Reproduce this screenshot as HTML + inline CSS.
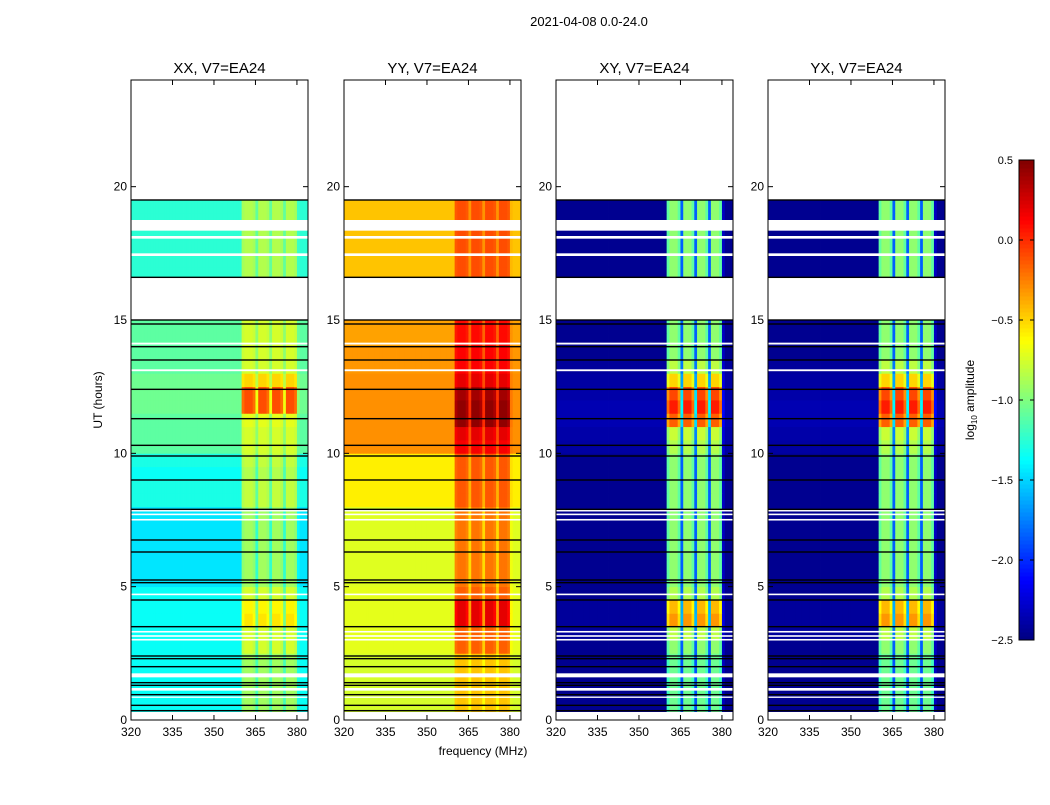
<!DOCTYPE html>
<html><head><meta charset="utf-8"><style>
body{margin:0;background:#fff;}
svg text{font-family:"Liberation Sans",sans-serif;}
</style></head><body>
<svg id="fig" width="1050" height="800" xmlns="http://www.w3.org/2000/svg">
<text x="589" y="26" font-size="13" text-anchor="middle">2021-04-08 0.0-24.0</text>
<g id="panels"></g>
<text x="483" y="755" font-size="12" text-anchor="middle">frequency (MHz)</text>
<text transform="translate(102,400) rotate(-90)" font-size="12" text-anchor="middle">UT (hours)</text>
<g id="cbar"></g>
<text transform="translate(974,400) rotate(-90)" font-size="12" text-anchor="middle">log<tspan font-size="8" dy="3">10</tspan><tspan dy="-3"> amplitude</tspan></text>
</svg>
<script>
// ---- data ----
const panelTitles = ["XX, V7=EA24","YY, V7=EA24","XY, V7=EA24","YX, V7=EA24"];
const xTicks = [320,335,350,365,380];
const yTicks = [0,5,10,15,20];
const cbTicks = [0.5,0.0,-0.5,-1.0,-1.5,-2.0,-2.5];
// time bins of 0.5 h starting at 0.0; null = no data
const baseXX = [-1.35,-1.35,-1.35,-1.35,-1.35,-1.35,-1.35,-1.35,-1.35,-1.35,-1.45,-1.45,-1.45,-1.45,-1.45,-1.45,-1.3,-1.3,-1.35,-1.3,-1.1,-1.1,-1.1,-1.05,-1.05,-1.05,-1.1,-1.1,-1.1,-1.1,null,null,null,-1.25,-1.25,-1.25,-1.25,-1.25,-1.25];
const bandXX = [0.45,0.45,0.45,0.45,0.45,0.6,0.6,0.8,0.75,0.6,0.55,0.55,0.55,0.55,0.55,0.55,0.5,0.5,0.5,0.5,0.35,0.35,0.4,0.95,0.95,0.55,0.35,0.35,0.35,0.35,null,null,null,0.4,0.4,0.4,0.4,0.4,0.4];
const baseYY = [-0.75,-0.75,-0.75,-0.75,-0.75,-0.7,-0.7,-0.7,-0.7,-0.7,-0.72,-0.72,-0.72,-0.72,-0.72,-0.72,-0.58,-0.58,-0.58,-0.58,-0.3,-0.3,-0.3,-0.3,-0.3,-0.3,-0.32,-0.32,-0.35,-0.35,null,null,null,-0.45,-0.45,-0.45,-0.45,-0.45,-0.45];
const bandYY = [0.3,0.3,0.3,0.3,0.3,0.55,0.55,0.9,0.9,0.55,0.5,0.5,0.5,0.5,0.5,0.5,0.45,0.45,0.45,0.45,0.45,0.5,0.75,0.75,0.7,0.5,0.45,0.45,0.45,0.45,null,null,null,0.35,0.35,0.35,0.35,0.35,0.35];
const baseXY = [-2.45,-2.45,-2.45,-2.45,-2.45,-2.45,-2.42,-2.42,-2.42,-2.45,-2.45,-2.45,-2.45,-2.45,-2.45,-2.45,-2.45,-2.45,-2.45,-2.45,-2.4,-2.38,-2.35,-2.35,-2.38,-2.4,-2.42,-2.45,-2.45,-2.45,null,null,null,-2.45,-2.45,-2.45,-2.45,-2.45,-2.45];
const bandXY = [1.4,1.4,1.4,1.4,1.4,1.5,1.6,2.1,2.0,1.6,1.5,1.5,1.5,1.5,1.5,1.5,1.5,1.5,1.5,1.5,1.55,1.6,2.2,2.4,2.3,1.9,1.6,1.5,1.5,1.5,null,null,null,1.5,1.5,1.5,1.5,1.5,1.5];
const baseYX = baseXY.slice();
const bandYX = bandXY.slice();
// frequency channel (1 MHz, 320..383) band shape
const bandProfile = [0,0,0,0,0,0,0,0,0,0,0,0,0,0,0,0,0,0,0,0,0,0,0,0,0,0,0,0,0,0,0,0,0,0,0,0,0,0,0,0,0.9,1,1,1,0.9,0.4,1,1,1,0.9,0.4,1,1,1,0.9,0.4,1,1,1,0.9,0.1,0,0,0];
// flagged time ranges
const whiteRanges = [[0,0.3],[19.55,24],[15.05,16.6],[18.35,18.75],[18.05,18.15],[17.4,17.5],[14.08,14.15],[13.08,13.15],[7.82,7.88],[7.68,7.74],[7.48,7.54],[4.68,4.74],[3.28,3.34],[3.12,3.18],[2.98,3.04],[1.6,1.75],[1.1,1.2],[0.83,0.88]];
const blackLines = [19.5,16.6,15.0,14.85,14.0,13.5,12.4,11.3,10.3,9.9,9.0,7.9,6.75,6.3,5.25,5.15,4.5,3.5,2.4,2.3,2.0,1.4,1.3,0.95,0.55,0.35];

const bases=[baseXX,baseYY,baseXY,baseYX], bands=[bandXX,bandYY,bandXY,bandYX];
const panelX=[131,344,556,768], PW=177, PT=80, PB=720;
const NS="http://www.w3.org/2000/svg";
function el(tag,attrs,parent){const e=document.createElementNS(NS,tag);for(const k in attrs)e.setAttribute(k,attrs[k]);parent.appendChild(e);return e;}
function jet(v){let t=(v+2.5)/3;t=Math.max(0,Math.min(1,t));const c=x=>Math.round(255*Math.max(0,Math.min(1,1.5-Math.abs(x))));return `rgb(${c(4*t-3)},${c(4*t-2)},${c(4*t-1)})`;}
const yS=h=>PB-(h/24)*(PB-PT);
const panelsG=document.getElementById('panels');
for(let p=0;p<4;p++){
  const x0=panelX[p];
  const xS=f=>x0+(f-320)/64*PW;
  const g=el('g',{},panelsG);
  
  
  const hm=el('g',{},g);
  
  
  const base=bases[p], band=bands[p];
  for(let i=0;i<base.length;i++){
    if(base[i]===null)continue;
    const y1=yS(i*0.5+0.5), y2=yS(i*0.5);
    for(let c=0;c<bandProfile.length;c++){
      const v=base[i]+band[i]*bandProfile[c];
      const r=el('rect',{x:xS(320+c).toFixed(2),y:y1.toFixed(2),width:(PW/64+0.4).toFixed(2),height:(y2-y1+0.4).toFixed(2),fill:jet(v)},hm);
      
      
    }
  }
  whiteRanges.forEach(w=>{
    const r=el('rect',{x:x0,y:yS(w[1]),width:PW,height:yS(w[0])-yS(w[1]),fill:'#fff'},g);
    
    
  });
  blackLines.forEach(h=>{
    const r=el('rect',{x:x0,y:yS(h)-0.7,width:PW,height:1.4,fill:'#000'},g);
    
    
  });
  const fr=el('rect',{x:x0,y:PT,width:PW,height:PB-PT,fill:'none',stroke:'#000','stroke-width':1},g);
  
  
  const t=el('text',{x:x0+PW/2,y:73,'font-size':15,'text-anchor':'middle'},g);
  t.textContent=panelTitles[p];
  
  
  xTicks.forEach(f=>{
    el('line',{x1:xS(f),x2:xS(f),y1:PB,y2:PB-5,stroke:'#000'},g);
    el('line',{x1:xS(f),x2:xS(f),y1:PT,y2:PT+5,stroke:'#000'},g);
    const tl=el('text',{x:xS(f),y:PB+16,'font-size':12,'text-anchor':'middle'},g);
    tl.textContent=f;
    
    
  });
  yTicks.forEach(h=>{
    el('line',{x1:x0,x2:x0+5,y1:yS(h),y2:yS(h),stroke:'#000'},g);
    el('line',{x1:x0+PW,x2:x0+PW-5,y1:yS(h),y2:yS(h),stroke:'#000'},g);
    const tl=el('text',{x:x0-4,y:yS(h)+4,'font-size':12,'text-anchor':'end'},g);
    tl.textContent=h;
    
    
  });
}
// colorbar
const cb=document.getElementById('cbar');
const CX=1019,CW=15,CT=160,CB=640;
const cS=v=>CB-(v+2.5)/3*(CB-CT);
for(let i=0;i<120;i++){
  const v0=-2.5+3*i/120, v1=-2.5+3*(i+1)/120;
  el('rect',{x:CX,y:cS(v1),width:CW,height:cS(v0)-cS(v1)+0.5,fill:jet((v0+v1)/2)},cb);
}
el('rect',{x:CX,y:CT,width:CW,height:CB-CT,fill:'none',stroke:'#000'},cb);
cbTicks.forEach(v=>{
  el('line',{x1:CX,x2:CX+4,y1:cS(v),y2:cS(v),stroke:'#000'},cb);
  el('line',{x1:CX+CW,x2:CX+CW-4,y1:cS(v),y2:cS(v),stroke:'#000'},cb);
  const tl=el('text',{x:1013,y:cS(v)+4,'font-size':11,'text-anchor':'end'},cb);
  tl.textContent=v.toFixed(1).replace('-','\u2212');
  
  
});
</script>
</body></html>
